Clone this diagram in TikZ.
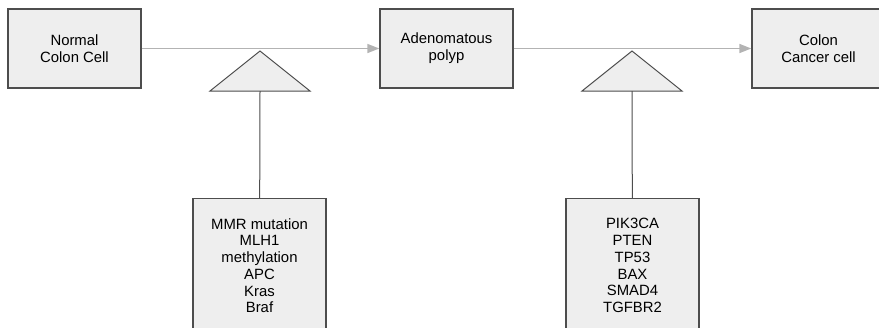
\documentclass[tikz,border=0pt]{standalone}
\usepackage{fontspec}
\setmainfont{Liberation Sans}
\usetikzlibrary{arrows.meta}
\definecolor{boxfill}{HTML}{EEEEEE}
\definecolor{boxline}{HTML}{4D4D4D}
\definecolor{flowline}{HTML}{B3B3B3}

\begin{document}
\begin{tikzpicture}[x=0.03cm,y=-0.03cm,
	stage/.style={draw=boxline,fill=boxfill,line width=0.04cm,minimum width=3.99cm,minimum height=2.37cm,inner sep=0pt,align=center,font=\fontsize{12.7}{14.3}\selectfont},
	genes/.style={stage,minimum height=4.02cm,anchor=north},
	flow/.style={draw=flowline,line width=0.045cm,-{Triangle[length=0.36cm,width=0.27cm,fill=flowline]}},
	tri/.style={draw=boxline,fill=boxfill,line width=0.03cm,line join=miter},
	stem/.style={draw=boxline,line width=0.03cm}]
				\useasboundingbox (0,0) rectangle (879,327);
				%draw stage boxes
				\node[stage] (normal) at (74.5,48.5) {Normal\\Colon Cell};
				\node[stage] (adenoma) at (446.5,48.5) {Adenomatous\\polyp};
				\node[stage] (cancer) at (818.5,48.5) {Colon\\Cancer cell};
				%draw arrows between stages
				\draw[flow] (normal) -- (adenoma);
				\draw[flow] (adenoma) -- (cancer);
				%draw triangles under the arrows
				\foreach \x/\name in {260/tri1, 632/tri2}{%
					\draw[tri] (\x,51) -- (\x+50,91) -- (\x-50,91) -- cycle;
					\coordinate (\name) at (\x,91);
				}
				%draw gene boxes
				\node[genes] (early) at (259.5,198) {MMR mutation\\MLH1\\methylation\\APC\\Kras\\Braf};
				\node[genes] (late) at (632.5,198) {PIK3CA\\PTEN\\TP53\\BAX\\SMAD4\\TGFBR2};
				%draw stems
				\draw[stem] (tri1) -- (early);
				\draw[stem] (tri2) -- (late);
\end{tikzpicture}
\end{document}
